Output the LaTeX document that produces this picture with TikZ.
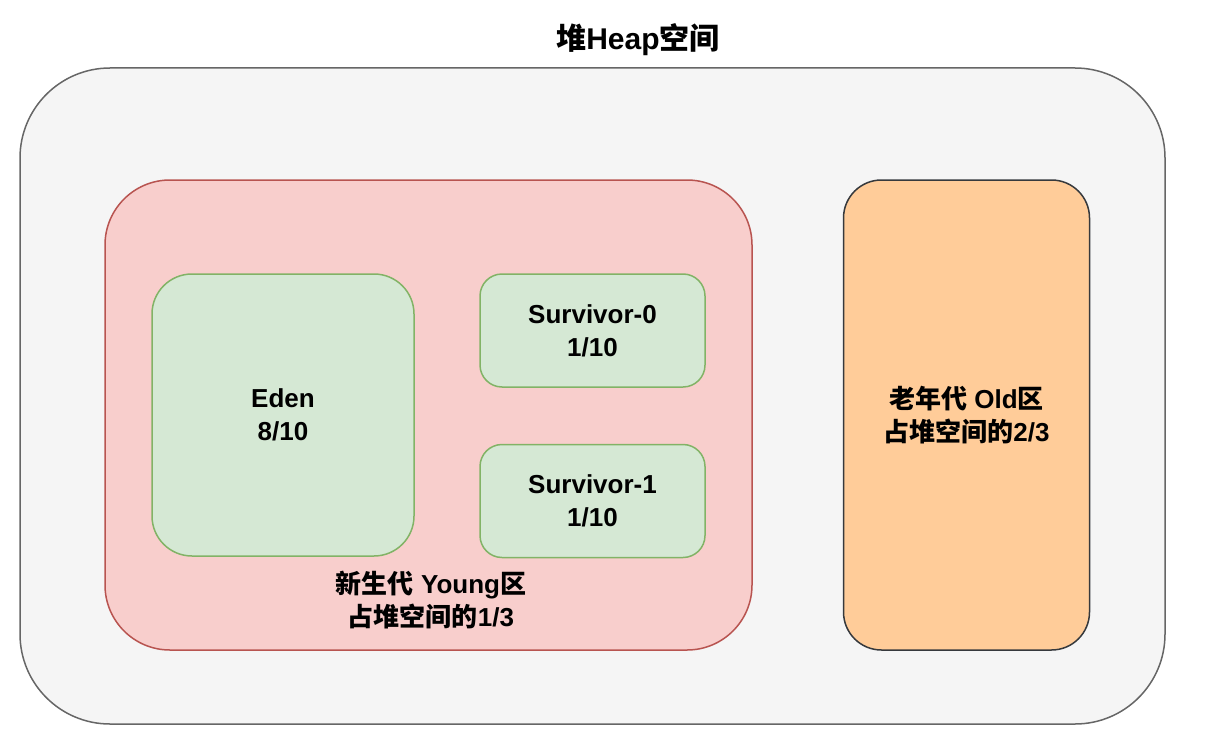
\documentclass[tikz,border=0pt]{standalone}
\usepackage{fontspec}
\setmainfont{Liberation Sans}
\newfontfamily\cjk{Noto Sans CJK SC}
\newcommand{\zh}[1]{{\cjk #1}}
\usetikzlibrary{positioning}
\definecolor{HeapFill}{HTML}{F5F5F5}
\definecolor{HeapLine}{HTML}{666666}
\definecolor{YoungFill}{HTML}{F8CECC}
\definecolor{YoungLine}{HTML}{B85450}
\definecolor{EdenFill}{HTML}{D5E8D4}
\definecolor{EdenLine}{HTML}{82B366}
\definecolor{OldFill}{HTML}{FFCC99}
\definecolor{OldLine}{HTML}{36393D}

\begin{document}
\begin{tikzpicture}[x=1pt,y=1pt,
  area/.style={draw,line width=1.5pt,inner sep=0pt,align=center,
    font=\fontsize{26}{33}\selectfont\bfseries},
  heap/.style={area,draw=HeapLine,fill=HeapFill,rounded corners=90pt,minimum width=1145pt,minimum height=656pt},
  young/.style={area,draw=YoungLine,fill=YoungFill,rounded corners=65pt,minimum width=647pt,minimum height=470pt},
  eden/.style={area,draw=EdenLine,fill=EdenFill,rounded corners=40pt,minimum width=262pt,minimum height=282pt},
  surv/.style={area,draw=EdenLine,fill=EdenFill,rounded corners=22pt,minimum width=225pt,minimum height=113pt},
  oldgen/.style={area,draw=OldLine,fill=OldFill,rounded corners=38pt,minimum width=246pt,minimum height=470pt},
  lbl/.style={align=center,inner sep=0pt,font=\fontsize{26}{33}\selectfont\bfseries}]
\useasboundingbox (0,0) rectangle (1212,-741);
\node[lbl,font=\fontsize{30}{36}\selectfont\bfseries] (title) at (638,-40) {\zh{堆}Heap\zh{空间}};
\node[heap] (heap) at (592.5,-396) {};
\node[young] (young) at (428.5,-415) {};
\node[oldgen,right=90pt of young] (old) {\zh{老年代} Old\zh{区}\\\zh{占堆空间的}2/3};
\node[eden] (eden) at (283,-415) {Eden\\8/10};
\node[surv] (surv0) at (592.5,-330.5) {Survivor-0\\1/10};
\node[surv,below=56pt of surv0] (surv1) {Survivor-1\\1/10};
\node[lbl] (younglbl) at (431,-600) {\zh{新生代} Young\zh{区}\\\zh{占堆空间的}1/3};
\end{tikzpicture}
\end{document}
